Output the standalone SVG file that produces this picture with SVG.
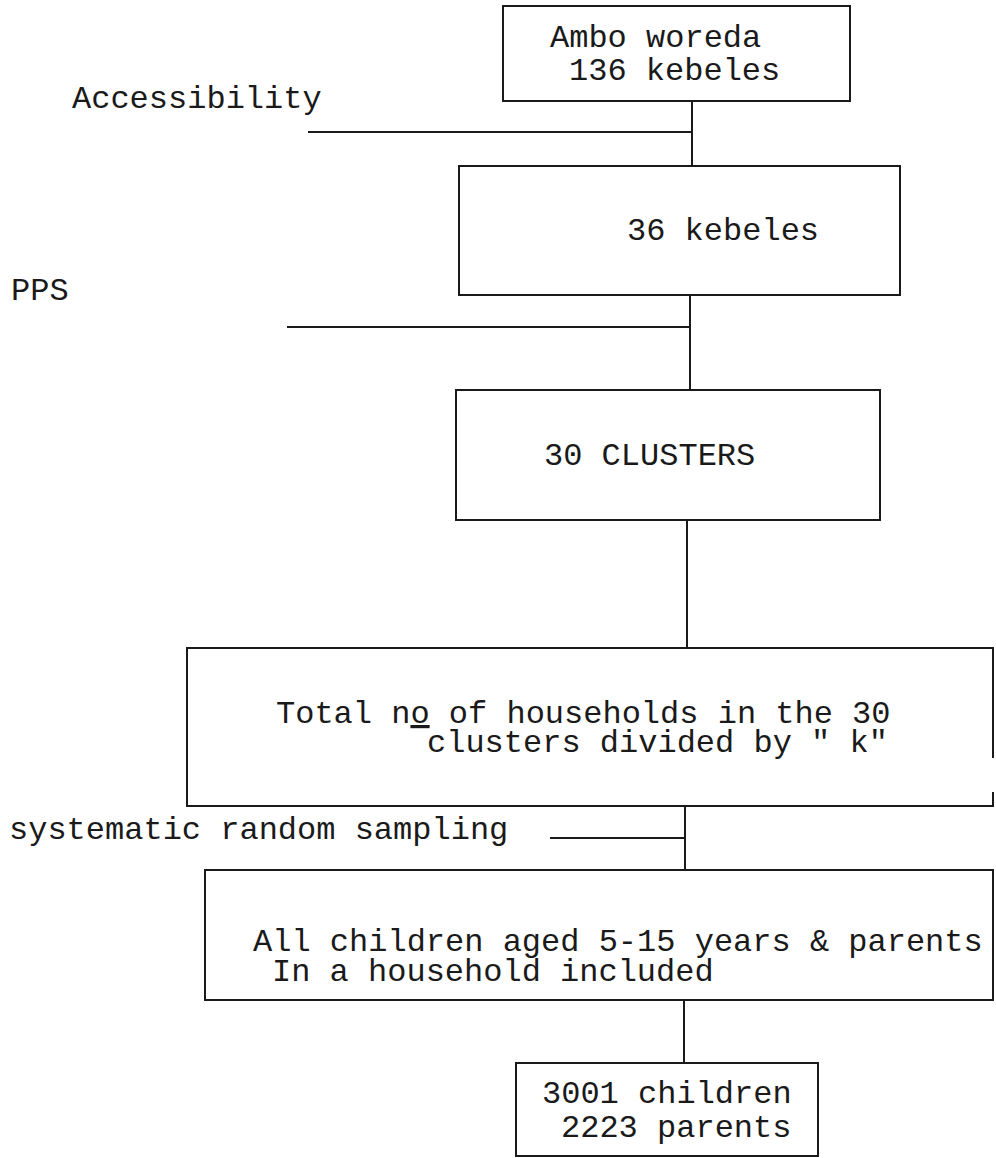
<svg xmlns="http://www.w3.org/2000/svg" width="996" height="1158" viewBox="0 0 996 1158">
  <style>
    .box { fill: none; stroke: #1a1a1a; stroke-width: 2; }
    .ln { fill: none; stroke: #1a1a1a; stroke-width: 2; }
    .t { font-family: "Liberation Mono", "Courier New", monospace; font-size: 32px; fill: #1a1a1a; }
  </style>
  <rect width="996" height="1158" fill="#ffffff"/>
  <g id="connectors">
    <line class="ln" x1="692" y1="101" x2="692" y2="166"/>
    <line class="ln" x1="308" y1="132" x2="692" y2="132"/>
    <line class="ln" x1="690" y1="295" x2="690" y2="390"/>
    <line class="ln" x1="287" y1="327" x2="690" y2="327"/>
    <line class="ln" x1="687" y1="520" x2="687" y2="648"/>
    <line class="ln" x1="685" y1="806" x2="685" y2="870"/>
    <line class="ln" x1="550" y1="838" x2="685" y2="838"/>
    <line class="ln" x1="684" y1="1000" x2="684" y2="1063"/>
  </g>
  <g id="label-accessibility">
    <text class="t" x="72" y="108">Accessibility</text>
  </g>
  <g id="label-pps">
    <text class="t" x="11" y="300">PPS</text>
  </g>
  <g id="label-systematic">
    <text class="t" x="9" y="839">systematic random sampling</text>
  </g>
  <g id="node-ambo">
    <rect class="box" x="503" y="6" width="347" height="95"/>
    <text class="t" x="550" y="47">Ambo woreda</text>
    <text class="t" x="569" y="80">136 kebeles</text>
  </g>
  <g id="node-36kebeles">
    <rect class="box" x="459" y="166" width="441" height="129"/>
    <text class="t" x="627" y="240">36 kebeles</text>
  </g>
  <g id="node-30clusters">
    <rect class="box" x="456" y="390" width="424" height="130"/>
    <text class="t" x="544" y="465">30 CLUSTERS</text>
  </g>
  <g id="node-households">
    <path class="box" d="M993,758 V648 H187 V806 H993 V792"/>
    <text class="t" x="276" y="723">Total n<tspan text-decoration="underline">o</tspan> of households in the 30</text>
    <text class="t" x="427" y="752">clusters divided by " k"</text>
  </g>
  <g id="node-children">
    <rect class="box" x="205" y="870" width="788" height="130"/>
    <text class="t" x="253" y="951">All children aged 5-15 years &amp; parents</text>
    <text class="t" x="272" y="981">In a household included</text>
  </g>
  <g id="node-result">
    <rect class="box" x="516" y="1063" width="302" height="93"/>
    <text class="t" x="542" y="1103">3001 children</text>
    <text class="t" x="561" y="1137">2223 parents</text>
  </g>
</svg>
